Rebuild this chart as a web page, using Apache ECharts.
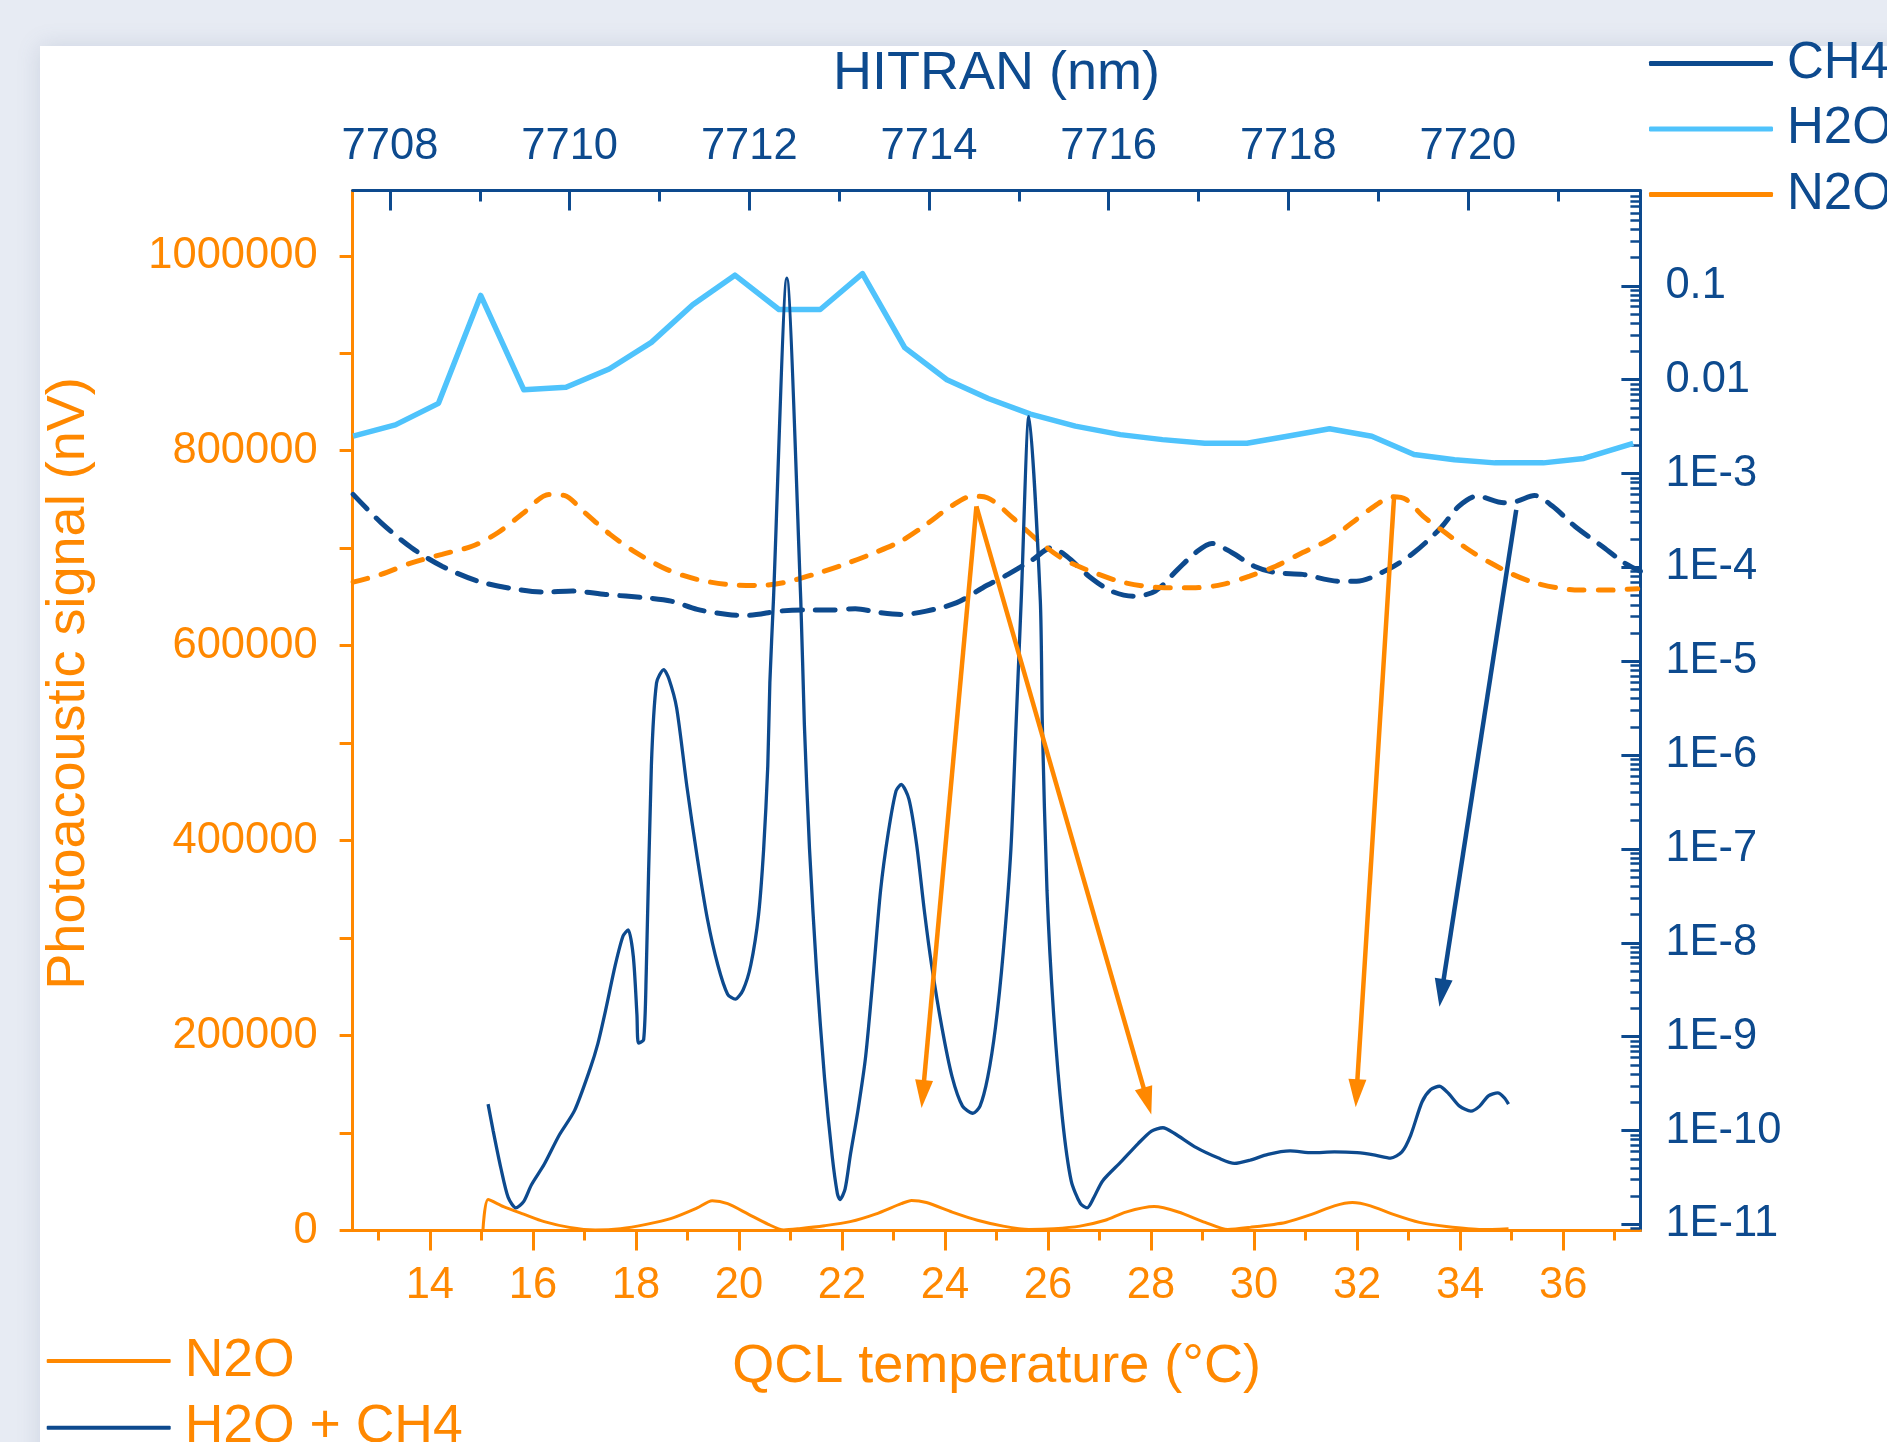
<!DOCTYPE html>
<html>
<head>
<meta charset="utf-8">
<script src="https://cdn.jsdelivr.net/npm/echarts@6/dist/echarts.min.js"></script>
<style>
html,body{margin:0;padding:0;background:#e7ebf3;}
#chart{width:1887px;height:1442px;}
</style>
</head>
<body>
<div id="chart"></div>
<script>
// ---------- Tick labels / axis ticks ----------
const tempMajorTicks = [14,16,18,20,22,24,26,28,30,32,34,36];
const tempMinorTicks = [13,15,17,19,21,23,25,27,29,31,33,35,37];
const nmMajorTicks = [7708,7710,7712,7714,7716,7718,7720];
const nmMinorTicks = [7709,7711,7713,7715,7717,7719,7721];
const signalLabelTicks = [0,200000,400000,600000,800000,1000000];
const signalTicks = [0,100000,200000,300000,400000,500000,600000,700000,800000,900000,1000000];
const absDecades = [1e-11,1e-10,1e-9,1e-8,1e-7,1e-6,1e-5,1e-4,1e-3,1e-2,1e-1];
const absDecadeLabels = ['1E-11','1E-10','1E-9','1E-8','1E-7','1E-6','1E-5','1E-4','1E-3','0.01','0.1'];

// ---------- HITRAN simulated absorption (top axis nm, right log axis) ----------
const h2oNm = [7707.59,7708.06,7708.54,7709.01,7709.49,7709.96,7710.44,7710.91,7711.37,7711.84,7712.33,7712.79,7713.26,7713.73,7714.20,7714.66,7715.13,7715.63,7716.13,7716.60,7717.07,7717.54,7717.99,7718.46,7718.93,7719.40,7719.85,7720.30,7720.84,7721.29,7721.84];
const h2oAbs = [2.5e-3,3.3e-3,5.6e-3,7.9e-2,7.8e-3,8.3e-3,1.3e-2,2.5e-2,6.3e-2,0.13,5.6e-2,5.6e-2,0.135,2.2e-2,1.0e-2,6.3e-3,4.3e-3,3.2e-3,2.6e-3,2.3e-3,2.1e-3,2.1e-3,2.5e-3,3.0e-3,2.5e-3,1.6e-3,1.4e-3,1.3e-3,1.3e-3,1.45e-3,2.1e-3];

const ch4Nm = [7707.59,7707.90,7708.24,7708.58,7708.98,7709.37,7709.71,7710.03,7710.40,7710.85,7711.13,7711.42,7711.76,7711.98,7712.33,7712.61,7712.89,7713.18,7713.46,7713.69,7713.97,7714.31,7714.60,7714.88,7715.16,7715.36,7715.53,7715.78,7716.03,7716.28,7716.52,7716.77,7716.97,7717.15,7717.37,7717.62,7717.86,7718.16,7718.56,7718.76,7719.11,7719.40,7719.70,7719.90,7720.10,7720.40,7720.55,7720.74,7720.94,7721.19,7721.49,7721.74,7721.92];
const ch4Abs = [6.0e-4,3.0e-4,1.62e-4,1.03e-4,7.14e-5,5.93e-5,5.46e-5,5.60e-5,5.15e-5,4.75e-5,4.38e-5,3.57e-5,3.15e-5,3.08e-5,3.42e-5,3.51e-5,3.51e-5,3.63e-5,3.29e-5,3.15e-5,3.42e-5,4.21e-5,6.08e-5,8.43e-5,1.22e-4,1.62e-4,1.32e-4,8.07e-5,5.60e-5,4.94e-5,5.60e-5,9.53e-5,1.44e-4,1.80e-4,1.44e-4,1.03e-4,8.79e-5,8.43e-5,7.14e-5,7.14e-5,9.53e-5,1.44e-4,2.65e-4,4.50e-4,5.75e-4,4.89e-4,5.09e-4,5.85e-4,4.50e-4,2.75e-4,1.69e-4,1.12e-4,9.08e-5];

const n2oNm = [7707.59,7707.90,7708.24,7708.58,7708.92,7709.20,7709.49,7709.77,7709.94,7710.17,7710.45,7710.74,7711.08,7711.42,7711.76,7712.10,7712.38,7712.72,7713.06,7713.40,7713.69,7713.97,7714.25,7714.48,7714.65,7714.93,7715.22,7715.50,7715.84,7716.18,7716.62,7716.97,7717.27,7717.57,7717.86,7718.16,7718.46,7718.71,7718.96,7719.16,7719.31,7719.50,7719.75,7720.00,7720.25,7720.50,7720.74,7720.99,7721.24,7721.54,7721.89];
const n2oAbs = [6.97e-5,8.43e-5,1.12e-4,1.38e-4,1.69e-4,2.34e-4,3.83e-4,6.0e-4,5.85e-4,3.83e-4,2.25e-4,1.44e-4,9.53e-5,7.45e-5,6.59e-5,6.43e-5,6.87e-5,8.43e-5,1.08e-4,1.44e-4,1.91e-4,2.87e-4,4.50e-4,5.75e-4,5.53e-4,3.39e-4,1.91e-4,1.22e-4,8.79e-5,6.87e-5,6.08e-5,6.08e-5,6.59e-5,8.07e-5,1.03e-4,1.44e-4,1.99e-4,2.99e-4,4.50e-4,5.66e-4,5.31e-4,3.52e-4,2.34e-4,1.56e-4,1.12e-4,8.43e-5,6.87e-5,6.08e-5,5.73e-5,5.73e-5,5.93e-5];

// ---------- Measured photoacoustic signal (bottom axis °C, left axis nV) ----------
const mixTemp = [15.13,15.23,15.38,15.52,15.67,15.82,15.97,16.22,16.51,16.81,17.11,17.26,17.41,17.60,17.75,17.85,17.95,18.02,18.05,18.15,18.20,18.30,18.40,18.54,18.64,18.79,18.99,19.19,19.39,19.59,19.78,19.93,20.08,20.23,20.38,20.48,20.56,20.60,20.67,20.93,21.20,21.27,21.37,21.51,21.66,21.81,21.91,21.96,22.06,22.16,22.31,22.46,22.61,22.75,22.90,23.05,23.15,23.30,23.45,23.60,23.74,23.94,24.14,24.34,24.54,24.68,24.83,24.98,25.13,25.28,25.38,25.48,25.63,25.85,25.89,25.98,26.11,26.28,26.45,26.63,26.76,26.89,27.06,27.41,27.75,28.01,28.23,28.45,28.88,29.31,29.62,29.92,30.27,30.70,31.13,31.56,32.00,32.35,32.65,32.87,33.04,33.26,33.43,33.60,33.78,33.99,34.21,34.38,34.55,34.73,34.86,34.94];
const mixSignal = [129700,102000,63600,33900,23200,29600,46700,67900,97700,123200,165800,191400,225500,272400,302100,308500,280900,221200,192200,195700,263800,476700,561800,575500,566100,536300,455400,383000,319100,272400,242500,237400,246800,272400,323400,391500,476700,561800,647000,977100,647000,519300,391500,263800,157300,76500,38100,31700,42400,76500,123200,178700,263800,348900,408500,451100,457600,442600,395800,327700,272400,208400,157300,127600,120300,127600,157300,208400,285100,391500,519300,647000,835100,647000,519300,348900,221100,114700,50900,27500,23200,33900,50900,70100,89200,102000,105400,99800,85000,74300,68800,72100,78100,81600,79800,80700,79800,77300,74300,80700,97700,131800,144600,148000,140300,127600,122400,127600,138200,141200,136100,129700];

const n2oTemp = [15.03,15.13,15.43,15.82,16.22,16.71,17.21,17.70,18.20,18.69,19.19,19.48,19.78,20.18,20.57,20.87,21.17,21.66,22.16,22.65,23.15,23.35,23.64,24.14,24.63,25.13,25.63,26.12,26.62,27.11,27.51,28.06,28.53,29.05,29.49,29.92,30.61,31.13,31.56,31.91,32.26,32.69,33.21,33.73,34.42,34.94];
const n2oSignal = [0,31700,24500,16800,9100,3200,600,1900,6300,12500,23200,30500,27500,16800,6300,600,1900,4900,9100,16800,27500,30900,28700,18900,10500,4500,1100,1900,4500,10500,18900,24500,19000,8300,1000,3200,8300,16800,25300,28700,25300,16800,8300,4100,1000,1900];

// ---------- Annotation arrows: [fromTemp, fromSignal, toTemp, toSignal] ----------
const n2oArrows = [[24.61,742800,23.57,140000],[24.61,742800,27.93,132700],[32.72,754800,31.99,140900]];
const ch4Arrows = [[35.09,739400,33.64,243700]];

// ---------- Styling ----------
const ORANGE = '#ff8800';
const DARK = '#0d4a8e';
const LIGHT = '#4fc3fc';
const FONT = '"Liberation Sans", Arial, Helvetica, sans-serif';
const TICK_FONT = 43.5;
const ARROW_HEAD = 'path://M9,0 L18,28 L0,28 Z';

const LOG_MIN = -11.065, LOG_MAX = 0.016;
const absMinorTicks = [];
for (let e = -12; e <= 0; e++) {
  for (let k = 2; k <= 9; k++) {
    const v = e + Math.log10(k);
    if (v > LOG_MIN && v < LOG_MAX) absMinorTicks.push(v);
  }
}
const absMajorLog = absDecades.map(v => Math.log10(v));

function lbl(base) {
  return Object.assign({fontFamily: FONT, fontSize: TICK_FONT}, base);
}
function arrowMarkLine(arrows, color) {
  return {
    silent: true, symbol: ['none', ARROW_HEAD], symbolSize: 28, symbolKeepAspect: true,
    label: {show: false}, emphasis: {disabled: true},
    lineStyle: {color: color, width: 4.5, type: 'solid', opacity: 1},
    itemStyle: {color: color},
    data: arrows.map(a => [{coord: [a[0], a[1]]}, {coord: [a[2], a[3]]}])
  };
}
function legendRow(name, color, top, left, textColor, fontSize, barH, label) {
  return {
    orient: 'vertical', left: left, top: top, itemWidth: 124, itemHeight: barH,
    selectedMode: false,
    data: [{name: name, icon: 'roundRect', itemStyle: {color: color, borderWidth: 0}}],
    formatter: () => label,
    textStyle: {color: textColor, fontSize: fontSize, fontFamily: FONT, padding: [0,0,0,9]}
  };
}

const GRID = {left: 352.6, right: 246.6, top: 190.5, bottom: 211.5, containLabel: false};

const chart = echarts.init(document.getElementById('chart'), null, {renderer: 'canvas'});

const option = {
  animation: false,
  backgroundColor: '#e7ebf3',
  graphic: [{
    type: 'rect', left: 40, top: 46, z: -100,
    shape: {width: 1900, height: 1450},
    style: {fill: '#ffffff', shadowBlur: 22, shadowColor: 'rgba(90,110,150,0.18)'}
  }],
  grid: [Object.assign({}, GRID), Object.assign({}, GRID)],
  legend: [
    legendRow('CH4', DARK, 33, 1644, DARK, 51, 5, 'CH4'),
    legendRow('H2O', LIGHT, 33 + 65.5, 1644, DARK, 51, 5, 'H2O'),
    legendRow('N2O HITRAN', ORANGE, 33 + 131, 1644, DARK, 51, 5, 'N2O'),
    legendRow('N2O', ORANGE, 1329, 41.7, ORANGE, 53.5, 4, 'N2O'),
    legendRow('H2O + CH4', DARK, 1329 + 66.7, 41.7, ORANGE, 53.5, 4, 'H2O + CH4')
  ],
  xAxis: [{
    gridIndex: 0, type: 'value', position: 'bottom', min: 12.5, max: 37.5,
    name: 'QCL temperature (°C)', nameLocation: 'middle', nameGap: 110,
    nameTextStyle: {color: ORANGE, fontSize: 54, fontFamily: FONT},
    axisLine: {show: true, onZero: false, lineStyle: {color: ORANGE, width: 3}},
    axisTick: {show: true, customValues: tempMajorTicks, length: 20, inside: false, lineStyle: {color: ORANGE, width: 3}},
    axisLabel: {customValues: tempMajorTicks, ...lbl({color: ORANGE, margin: 33}), formatter: v => String(v)},
    splitLine: {show: false}
  }, {
    gridIndex: 0, type: 'value', position: 'top', min: 7707.584, max: 7721.92,
    name: 'HITRAN (nm)', nameLocation: 'middle', nameGap: 89,
    nameTextStyle: {color: DARK, fontSize: 54, fontFamily: FONT},
    axisLine: {show: true, onZero: false, lineStyle: {color: DARK, width: 3}},
    axisTick: {show: true, customValues: nmMajorTicks, length: 20, inside: true, lineStyle: {color: DARK, width: 3}},
    axisLabel: {customValues: nmMajorTicks, ...lbl({color: DARK, margin: 22}), formatter: v => String(v)},
    splitLine: {show: false}
  }, {
    gridIndex: 1, type: 'value', position: 'bottom', min: 12.5, max: 37.5,
    axisLine: {show: false, onZero: false},
    axisTick: {show: true, customValues: tempMinorTicks, length: 10, inside: false, lineStyle: {color: ORANGE, width: 3}},
    axisLabel: {show: false}, splitLine: {show: false}
  }, {
    gridIndex: 1, type: 'value', position: 'top', min: 7707.584, max: 7721.92,
    axisLine: {show: false, onZero: false},
    axisTick: {show: true, customValues: nmMinorTicks, length: 11, inside: true, lineStyle: {color: DARK, width: 3}},
    axisLabel: {show: false}, splitLine: {show: false}
  }],
  yAxis: [{
    gridIndex: 0, type: 'value', position: 'left', min: 0, max: 1067000,
    name: 'Photoacoustic signal (nV)', nameLocation: 'middle', nameGap: 256,
    nameTextStyle: {color: ORANGE, fontSize: 54, fontFamily: FONT, padding: [0,0,0,54]},
    axisLine: {show: true, onZero: false, lineStyle: {color: ORANGE, width: 3}},
    axisTick: {show: true, customValues: signalTicks, length: 13, inside: false, lineStyle: {color: ORANGE, width: 3}},
    axisLabel: {customValues: signalLabelTicks, ...lbl({color: ORANGE, margin: 35}), formatter: v => String(v)},
    splitLine: {show: false}
  }, {
    gridIndex: 0, type: 'value', position: 'right', min: LOG_MIN, max: LOG_MAX,
    axisLine: {show: true, onZero: false, lineStyle: {color: DARK, width: 3}},
    axisTick: {show: true, customValues: absMajorLog, length: 19, inside: true, lineStyle: {color: DARK, width: 3}},
    axisLabel: {
      customValues: absMajorLog, ...lbl({color: DARK, margin: 25}),
      formatter: v => {
        const i = absMajorLog.findIndex(m => Math.abs(m - v) < 1e-6);
        return i >= 0 ? absDecadeLabels[i] : '';
      }
    },
    splitLine: {show: false}
  }, {
    gridIndex: 1, type: 'value', position: 'right', min: LOG_MIN, max: LOG_MAX,
    axisLine: {show: false, onZero: false},
    axisTick: {show: true, customValues: absMinorTicks, length: 10, inside: true, lineStyle: {color: DARK, width: 2.5}},
    axisLabel: {show: false}, splitLine: {show: false}
  }],
  series: [{
    name: 'H2O', type: 'line', xAxisIndex: 1, yAxisIndex: 1, z: 2,
    data: h2oNm.map((x, i) => [x, Math.log10(h2oAbs[i])]),
    symbol: 'none', silent: true,
    lineStyle: {color: LIGHT, width: 5.5, join: 'round'}, itemStyle: {color: LIGHT}
  }, {
    name: 'CH4', type: 'line', xAxisIndex: 1, yAxisIndex: 1, z: 2, smooth: 0.3,
    data: ch4Nm.map((x, i) => [x, Math.log10(ch4Abs[i])]),
    symbol: 'none', silent: true,
    lineStyle: {color: DARK, width: 5, type: [20, 13], cap: 'round'}, itemStyle: {color: DARK}
  }, {
    name: 'N2O HITRAN', type: 'line', xAxisIndex: 1, yAxisIndex: 1, z: 2, smooth: 0.3,
    data: n2oNm.map((x, i) => [x, Math.log10(n2oAbs[i])]),
    symbol: 'none', silent: true,
    lineStyle: {color: ORANGE, width: 5, type: [15, 14], cap: 'round'}, itemStyle: {color: ORANGE}
  }, {
    name: 'N2O', type: 'line', xAxisIndex: 0, yAxisIndex: 0, z: 4, smooth: 0.25,
    data: n2oTemp.map((x, i) => [x, n2oSignal[i]]),
    symbol: 'none', silent: true,
    lineStyle: {color: ORANGE, width: 3}, itemStyle: {color: ORANGE},
    markLine: arrowMarkLine(n2oArrows, ORANGE)
  }, {
    name: 'H2O + CH4', type: 'line', xAxisIndex: 0, yAxisIndex: 0, z: 4, smooth: 0.25,
    data: mixTemp.map((x, i) => [x, mixSignal[i]]),
    symbol: 'none', silent: true,
    lineStyle: {color: DARK, width: 3.3}, itemStyle: {color: DARK},
    markLine: arrowMarkLine(ch4Arrows, DARK)
  }]
};

chart.setOption(option);
</script>
</body>
</html>
